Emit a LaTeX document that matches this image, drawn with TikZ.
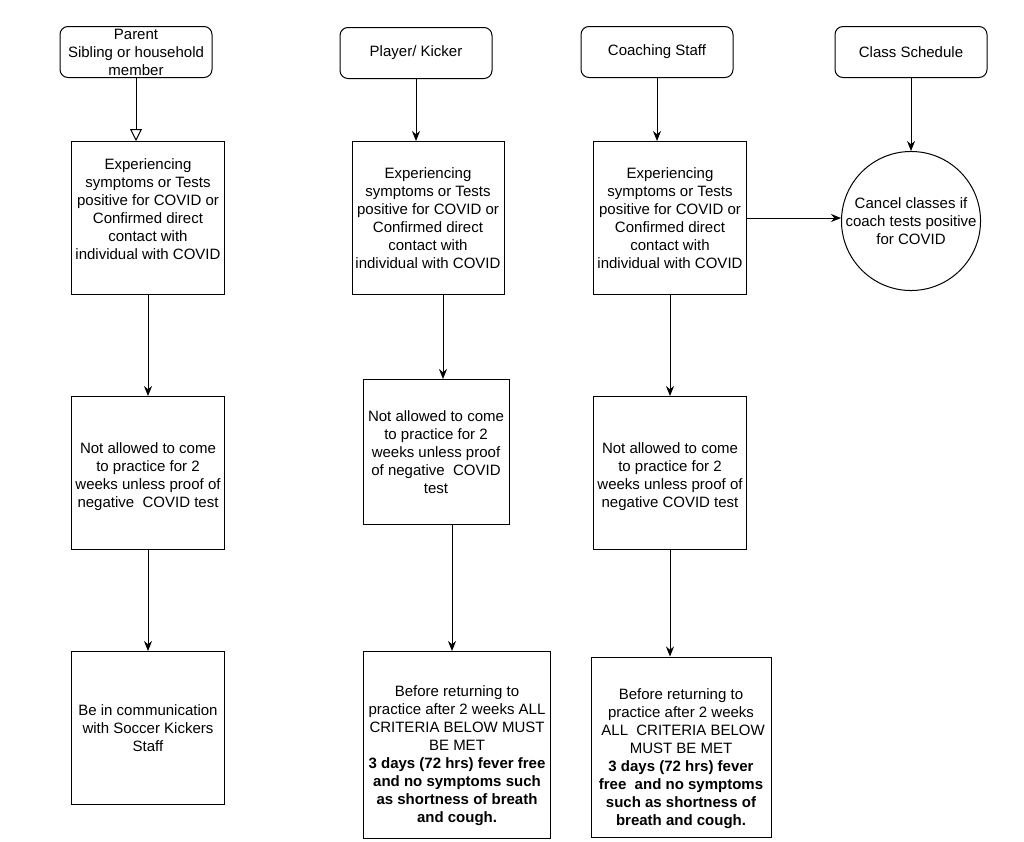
\documentclass[tikz,border=0pt]{standalone}
\usepackage{fontspec}
\setmainfont{Liberation Sans}
\usetikzlibrary{arrows.meta}

% lift the text inside a box without moving the box
\newcommand\liftby[2]{\raisebox{#1}[\height][\depth]{\begin{tabular}{@{}c@{}}#2\end{tabular}}}

\begin{document}
\begin{tikzpicture}[x=1pt,y=-1pt,line width=1pt,
  every node/.style={font=\fontsize{15}{18}\selectfont,align=center,inner sep=0pt},
  who/.style={draw,rounded corners=8pt,minimum width=152pt,minimum height=51pt},
  stepbox/.style={draw,minimum width=153pt,minimum height=153pt},
  arr/.style={-{Stealth[length=10pt,width=8pt]}},
  openarr/.style={-{Triangle[open,length=12pt,width=12pt]}}]

\useasboundingbox (0,0) rectangle (1024,841);

% top row
\node[who] (parent) at (136,52) {Parent\\Sibling or household\\member};
\node[who] (player) at (416,53) {Player/ Kicker};
\node[who] (coach) at (657,52) {Coaching Staff};
\node[who] (sched) at (911,52) {Class Schedule};

% parent column
\node[stepbox] (p1) at (148,218)
{\liftby{7pt}{Experiencing\\symptoms or Tests\\positive for COVID or\\Confirmed direct\\contact with\\individual with COVID}};
\node[stepbox] (p2) at (148,473)
{\liftby{-4pt}{Not allowed to come\\to practice for 2\\weeks unless proof of\\negative\ \ COVID test}};
\node[stepbox] (p3) at (148,728)
{Be in communication\\with Soccer Kickers\\Staff};

% player column
\node[stepbox,minimum width=152pt] (k1) at (428,218)
{\liftby{-2pt}{Experiencing\\symptoms or Tests\\positive for COVID or\\Confirmed direct\\contact with\\individual with COVID}};
\node[stepbox,minimum width=146pt,minimum height=145pt] (k2) at (436,452)
{Not allowed to come\\to practice for 2\\weeks unless proof\\of negative\ \ COVID\\test};
\node[stepbox,minimum width=187pt,minimum height=187pt] (k3) at (457,745)
{\liftby{-11pt}{Before returning to\\practice after 2 weeks ALL\\CRITERIA BELOW MUST\\BE MET\\\textbf{3 days (72 hrs) fever free}\\\textbf{and no symptoms such}\\\textbf{as shortness of breath}\\\textbf{and cough.}}};

% coach column
\node[stepbox] (c1) at (670,218)
{\liftby{-2pt}{Experiencing\\symptoms or Tests\\positive for COVID or\\Confirmed direct\\contact with\\individual with COVID}};
\node[stepbox] (c2) at (670,473)
{\liftby{-4pt}{Not allowed to come\\to practice for 2\\weeks unless proof of\\negative COVID test}};
\node[stepbox,minimum width=180pt,minimum height=180pt] (c3) at (681,747)
{\liftby{-12pt}{Before returning to\\practice after 2 weeks\\\ ALL\ \ CRITERIA BELOW\\MUST BE MET\\\textbf{3 days (72 hrs) fever}\\\textbf{free\ \ and no symptoms}\\\textbf{such as shortness of}\\\textbf{breath and cough.}}};

% schedule
\node[draw,circle,minimum size=138pt] (cancel) at (911,221)
{Cancel classes if\\coach tests positive\\for COVID};

\coordinate (kx1) at (443,0);
\coordinate (kx2) at (452,0);

\draw[openarr] (parent.south) -- (parent.south |- p1.north);
\draw[arr] (p1) -- (p2);
\draw[arr] (p2) -- (p3);

\draw[arr] (player.south) -- (player.south |- k1.north);
\draw[arr] (k1.south -| kx1) -- (k2.north -| kx1);
\draw[arr] (k2.south -| kx2) -- (k3.north -| kx2);

\draw[arr] (coach.south) -- (coach.south |- c1.north);
\draw[arr] (c1) -- (c2);
\draw[arr] (c2) -- (c3.north -| c2);

\draw[arr] (sched) -- (cancel);
\draw[arr] (c1.east) -- (c1.east -| cancel.west);
\end{tikzpicture}
\end{document}
